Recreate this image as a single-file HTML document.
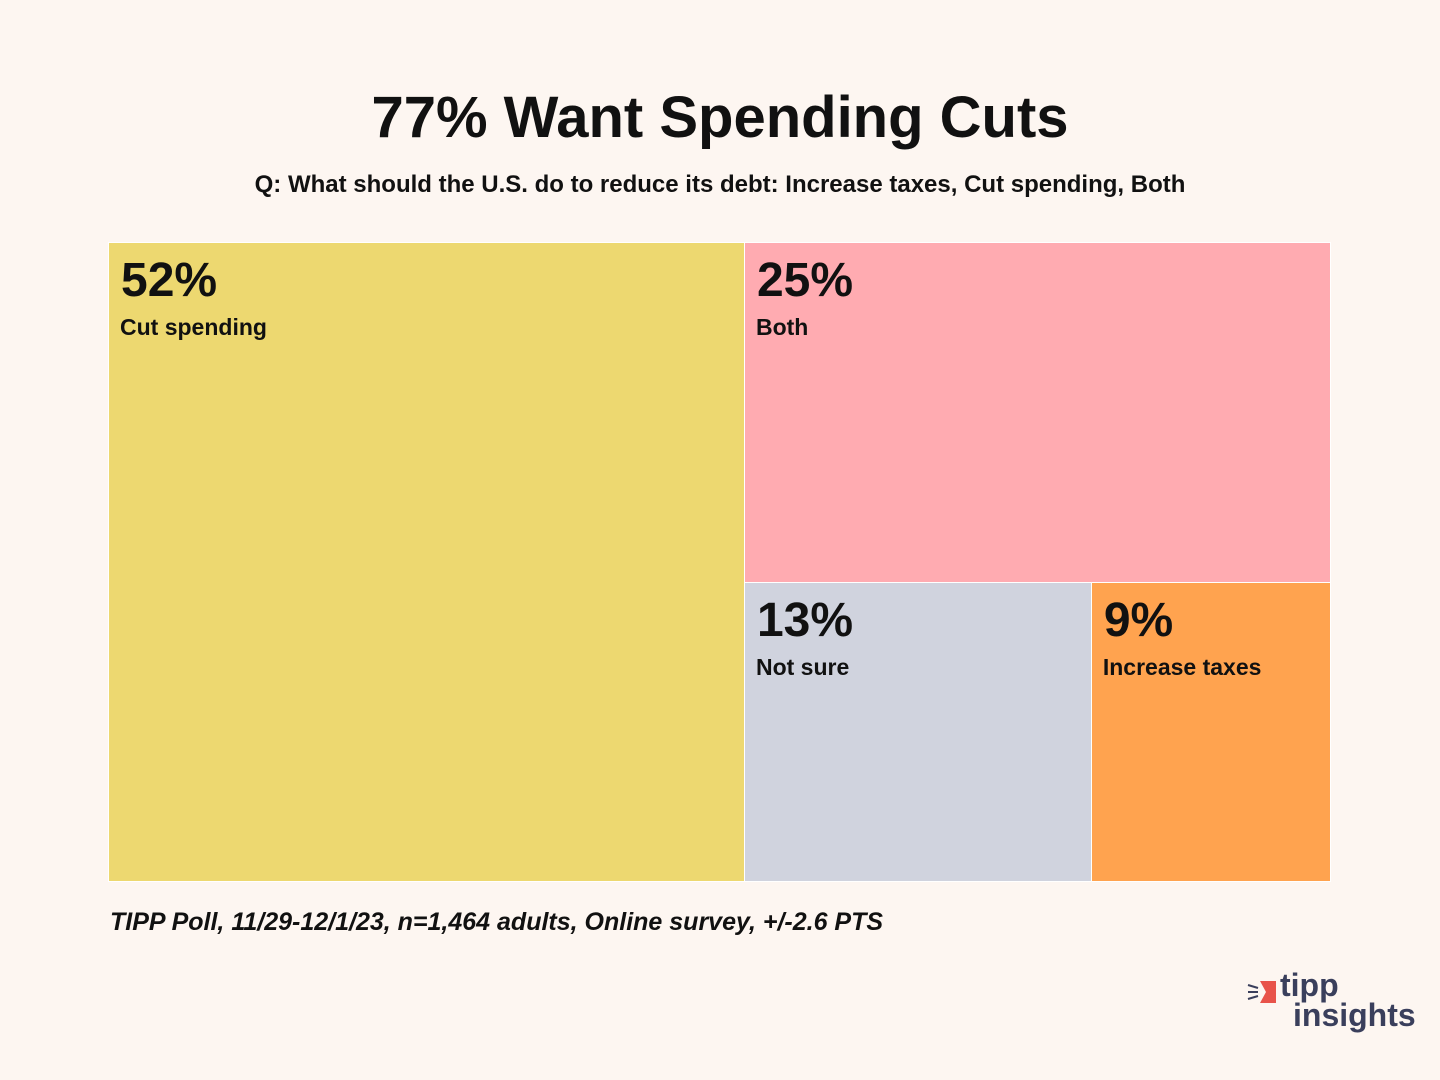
<!DOCTYPE html>
<html><head><meta charset="utf-8"><style>
body{margin:0;width:1440px;height:1080px;background:#fdf6f1;font-family:"Liberation Sans",sans-serif;position:relative;overflow:hidden}
.t{position:absolute;left:0;width:1440px;text-align:center;color:#111}
.cell{position:absolute;box-sizing:border-box;border:1px solid #fff}
.pct{position:absolute;left:12px;top:10px;font-size:48px;font-weight:bold;color:#111}
.lab{position:absolute;left:11px;top:71px;font-size:23px;font-weight:bold;color:#111}
</style></head><body>
<div class="t" style="top:84px;font-size:58px;font-weight:bold">77% Want Spending Cuts</div>
<div class="t" style="top:171px;font-size:24px;font-weight:bold">Q: What should the U.S. do to reduce its debt: Increase taxes, Cut spending, Both</div>
<div id="tm"></div>
<div style="position:absolute;left:110px;top:908px;font-size:25px;font-style:italic;font-weight:bold;color:#111">TIPP Poll, 11/29-12/1/23, n=1,464 adults, Online survey, +/-2.6 PTS</div>
<div style="position:absolute;left:1246px;top:975px;width:180px;height:60px">
<svg width="30" height="30" style="position:absolute;left:0;top:2px"><line x1="2" y1="8" x2="12" y2="11" stroke="#3a3f5c" stroke-width="2"/><line x1="2" y1="15" x2="12" y2="15" stroke="#3a3f5c" stroke-width="2"/><line x1="2" y1="22" x2="12" y2="19" stroke="#3a3f5c" stroke-width="2"/><polygon points="14,4 30,4 30,26 14,26 20,15" fill="#e8534a"/></svg>
<div style="position:absolute;left:34px;top:-6px;font-size:32px;font-weight:bold;color:#3a3f5c;line-height:32px">tipp</div>
<div style="position:absolute;left:47px;top:24px;font-size:32px;font-weight:bold;color:#3a3f5c;line-height:32px">insights</div>
</div>
<script>
const labels=["Cut spending","Both","Not sure","Increase taxes"];
const values=[52,25,13,9];
const colors=["#edd870","#ffabb1","#d0d3de","#ffa34f"];
const X0=108,Y0=242,W=1223,H=640;
const tm=document.getElementById('tm');
function cell(i,x,y,w,h){
 const d=document.createElement('div');d.className='cell';
 
 
 d.style.cssText=`left:${x}px;top:${y}px;width:${w}px;height:${h}px;background:${colors[i]}`;
 d.innerHTML=`<div class="pct">${values[i]}%</div><div class="lab">${labels[i]}</div>`;
 tm.appendChild(d);
}
const tot=Math.max(100,values.reduce((a,b)=>a+b,0));
const w0=W*values[0]/tot;
cell(0,X0,Y0,w0+1,H);
const rest=values.slice(1).reduce((a,b)=>a+b,0);
const rx=X0+w0,rw=W-w0;
const h1=H*values[1]/rest;
cell(1,rx,Y0,rw,h1+1);
const bs=values[2]+values[3];
const w2=rw*values[2]/bs;
cell(2,rx,Y0+h1,w2+1,H-h1);
cell(3,rx+w2,Y0+h1,rw-w2,H-h1);
</script>
</body></html>
